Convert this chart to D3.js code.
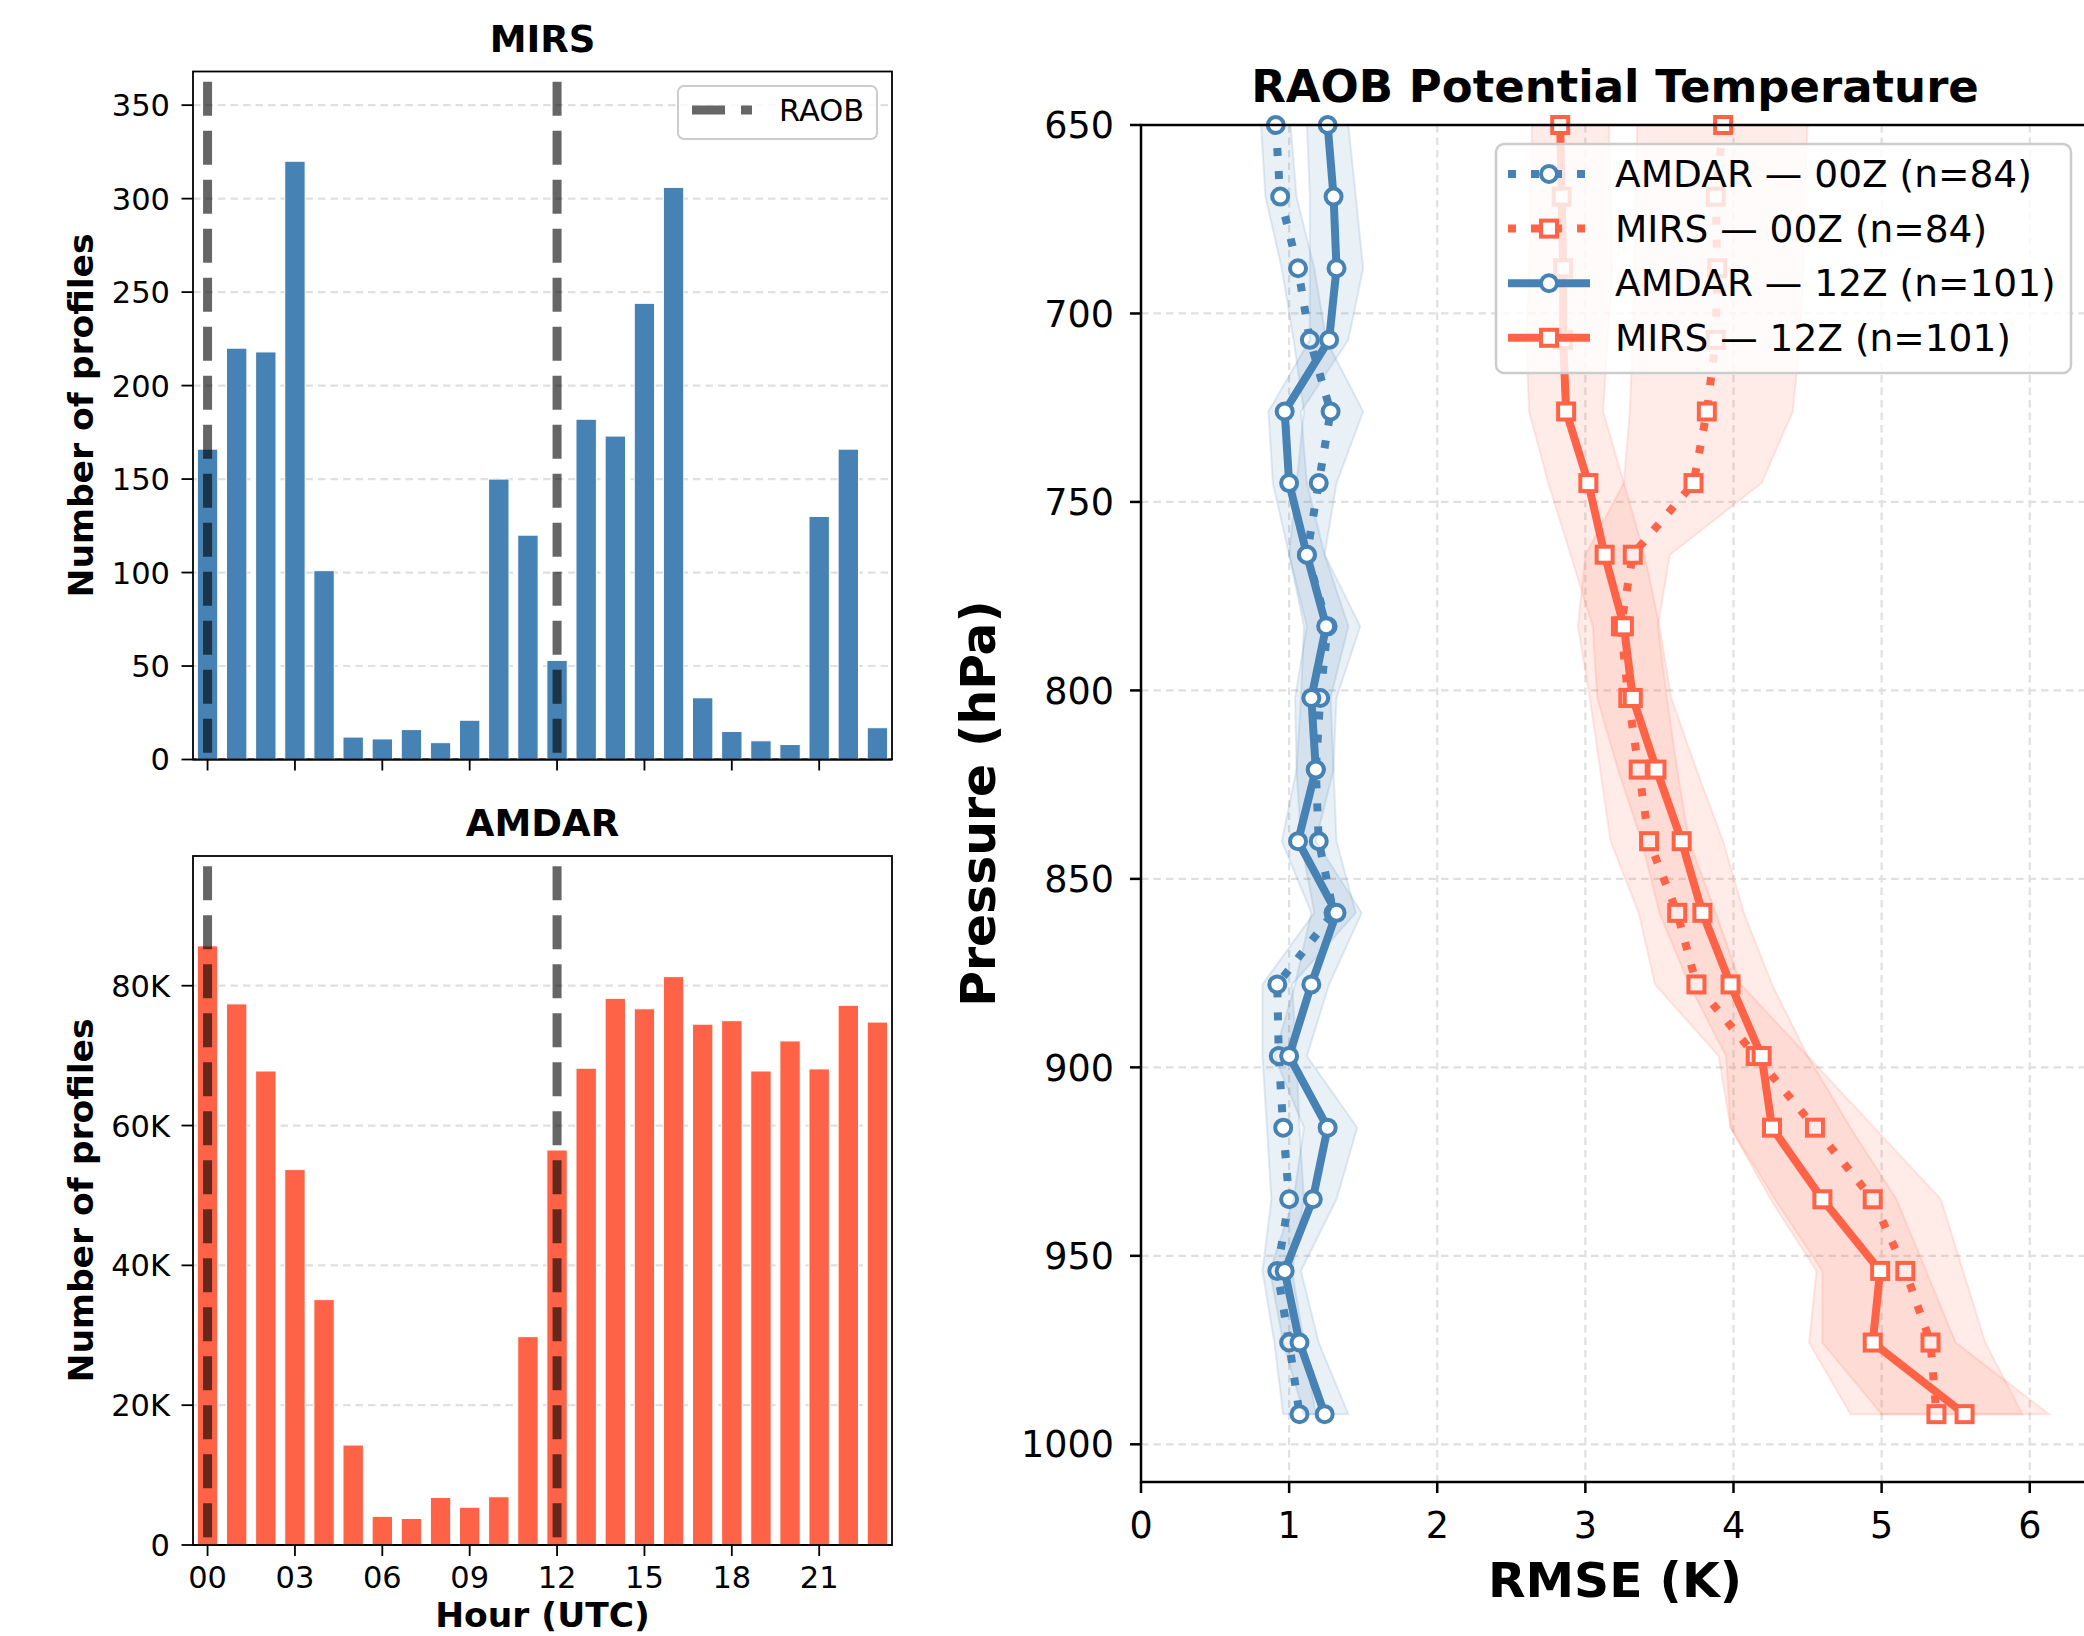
<!DOCTYPE html>
<html>
<head>
<meta charset="utf-8">
<script src="https://cdn.jsdelivr.net/npm/d3@7"></script>
<style>
  body { margin: 0; background: #fff; }
  svg { display: block; font-family: "DejaVu Sans", sans-serif; }
</style>
</head>
<body>
<script>
// hourly counts (left panels)
var hours = [0, 1, 2, 3, 4, 5, 6, 7, 8, 9, 10, 11, 12, 13, 14, 15, 16, 17, 18, 19, 20, 21, 22, 23];
var hourTicks = [0, 3, 6, 9, 12, 15, 18, 21];
var hourLabels = ['00', '03', '06', '09', '12', '15', '18', '21'];
var raobHours = [0, 12];
var mirsCounts = [166, 220, 218, 320, 101, 12, 11, 16, 9, 21, 150, 120, 53, 182, 173, 244, 306, 33, 15, 10, 8, 130, 166, 17];
var amdarCounts = [85700, 77400, 67800, 53700, 35100, 14300, 4100, 3800, 6800, 5400, 6900, 29800,
                   56500, 68200, 78200, 76700, 81300, 74500, 75000, 67800, 72100, 68100, 77200, 74800];
var mirsTicks = [0, 50, 100, 150, 200, 250, 300, 350];
var mirsTickLabels = ['0', '50', '100', '150', '200', '250', '300', '350'];
var amdarTicks = [0, 20000, 40000, 60000, 80000];
var amdarTickLabels = ['0', '20K', '40K', '60K', '80K'];

// RMSE profiles (right panel)
var levels = [650, 669, 688, 707, 726, 745, 764, 783, 802, 821, 840, 859, 878, 897, 916, 935, 954, 973, 992];
var amdar00 = [0.91, 0.94, 1.06, 1.14, 1.28, 1.20, 1.12, 1.26, 1.21, 1.18, 1.20, 1.30, 0.92, 0.93, 0.96, 1.00, 0.92, 1.00, 1.07];
var amdar00Lo = [0.81, 0.84, 0.95, 1.03, 1.10, 1.05, 1.00, 1.10, 1.08, 1.05, 1.08, 1.17, 0.82, 0.82, 0.85, 0.88, 0.82, 0.90, 0.96];
var amdar00Hi = [1.01, 1.05, 1.17, 1.25, 1.50, 1.32, 1.24, 1.48, 1.32, 1.30, 1.32, 1.45, 1.02, 1.05, 1.07, 1.10, 1.02, 1.10, 1.18];
var mirs00 = [3.93, 3.88, 3.89, 3.88, 3.82, 3.73, 3.32, 3.24, 3.29, 3.36, 3.43, 3.62, 3.75, 4.15, 4.55, 4.94, 5.16, 5.33, 5.37];
var mirs00Lo = [3.35, 3.34, 3.33, 3.32, 3.30, 3.26, 3.00, 2.95, 3.03, 3.10, 3.17, 3.36, 3.47, 3.90, 3.98, 4.25, 4.56, 4.51, 4.79];
var mirs00Hi = [4.50, 4.48, 4.47, 4.45, 4.40, 4.19, 3.57, 3.49, 3.55, 3.62, 3.70, 3.88, 4.05, 4.50, 4.95, 5.40, 5.55, 5.70, 5.95];
var amdar12 = [1.26, 1.30, 1.32, 1.27, 0.97, 1.00, 1.12, 1.25, 1.15, 1.18, 1.06, 1.32, 1.15, 1.00, 1.26, 1.16, 0.97, 1.07, 1.24];
var amdar12Lo = [1.12, 1.14, 1.14, 1.14, 0.86, 0.89, 1.00, 1.12, 1.04, 1.05, 0.95, 1.15, 1.04, 0.90, 1.10, 1.03, 0.87, 0.96, 1.10];
var amdar12Hi = [1.40, 1.45, 1.50, 1.40, 1.08, 1.12, 1.24, 1.40, 1.28, 1.30, 1.18, 1.49, 1.27, 1.12, 1.46, 1.32, 1.08, 1.20, 1.40];
var mirs12 = [2.83, 2.84, 2.85, 2.85, 2.87, 3.02, 3.13, 3.26, 3.32, 3.48, 3.65, 3.79, 3.98, 4.19, 4.26, 4.60, 4.99, 4.94, 5.56];
var mirs12Lo = [2.64, 2.63, 2.62, 2.60, 2.62, 2.75, 2.90, 3.05, 3.08, 3.22, 3.38, 3.50, 3.70, 3.95, 3.98, 4.28, 4.60, 4.60, 5.00];
var mirs12Hi = [3.16, 3.17, 3.18, 3.15, 3.12, 3.26, 3.40, 3.50, 3.58, 3.75, 3.93, 4.07, 4.26, 4.50, 4.79, 5.10, 5.30, 5.50, 6.13];
var pressureTicks = [650, 700, 750, 800, 850, 900, 950, 1000];
var rmseTicks = [0, 1, 2, 3, 4, 5, 6];

var blue = '#4682b4', red = '#ff6347', gridColor = '#e0e0e0';

var svg = d3.select('body').append('svg')
    .attr('width', 2084)
    .attr('height', 1636);
svg.append('rect').attr('width', 2084).attr('height', 1636).attr('fill', '#fff');

var x = d3.scaleLinear().domain([-0.5, 23.5]).range([193, 892]);

function barPanel(opts) {
  var y = d3.scaleLinear()
      .domain([0, d3.max(opts.values) * 1.15])
      .range([opts.bottom, opts.top]);
  var g = svg.append('g');

  // grid
  g.selectAll('.grid').data(opts.ticks).enter().append('line')
      .attr('x1', x.range()[0]).attr('x2', x.range()[1])
      .attr('y1', function(d) { return y(d); }).attr('y2', function(d) { return y(d); })
      .attr('stroke', gridColor).attr('stroke-width', 2.2).attr('stroke-dasharray', '7.5,5');

  // bottom spine first so bars cover it
  g.append('line')
      .attr('x1', x.range()[0]).attr('x2', x.range()[1])
      .attr('y1', opts.bottom).attr('y2', opts.bottom)
      .attr('stroke', '#000').attr('stroke-width', 1.8);

  g.selectAll('.bar').data(opts.values).enter().append('rect')
      .attr('x', function(d, i) { return x(hours[i] - 0.35); })
      .attr('width', x(0.7) - x(0))
      .attr('y', function(d) { return y(d); })
      .attr('height', function(d) { return y(0) - y(d); })
      .attr('fill', opts.color)
      .attr('stroke', '#fff').attr('stroke-width', 1);

  g.selectAll('.raob').data(raobHours).enter().append('line')
      .attr('x1', function(d) { return x(d); }).attr('x2', function(d) { return x(d); })
      .attr('y1', y(y.domain()[1] * 0.985)).attr('y2', opts.bottom)
      .attr('stroke', '#000').attr('stroke-opacity', 0.6)
      .attr('stroke-width', 9).attr('stroke-dasharray', '34,15');

  g.append('rect')
      .attr('x', x.range()[0]).attr('y', opts.top)
      .attr('width', x.range()[1] - x.range()[0]).attr('height', opts.bottom - opts.top)
      .attr('fill', 'none').attr('stroke', '#000').attr('stroke-width', 1.8);

  // y ticks
  g.selectAll('.yt').data(opts.ticks).enter().append('line')
      .attr('x1', 181.5).attr('x2', 193)
      .attr('y1', function(d) { return y(d); }).attr('y2', function(d) { return y(d); })
      .attr('stroke', '#000').attr('stroke-width', 1.8);
  g.selectAll('.yl').data(opts.ticks).enter().append('text')
      .attr('x', 170).attr('y', function(d) { return y(d); })
      .attr('dy', '0.36em').attr('text-anchor', 'end')
      .style('font-size', '30.5px')
      .text(function(d, i) { return opts.tickLabels[i]; });

  // x ticks
  g.selectAll('.xt').data(hourTicks).enter().append('line')
      .attr('x1', function(d) { return x(d); }).attr('x2', function(d) { return x(d); })
      .attr('y1', opts.bottom).attr('y2', opts.bottom + 11)
      .attr('stroke', '#000').attr('stroke-width', 1.8);
  if (opts.showHours) {
    g.selectAll('.xl').data(hourTicks).enter().append('text')
        .attr('x', function(d) { return x(d); }).attr('y', opts.bottom + 43)
        .attr('text-anchor', 'middle')
        .style('font-size', '30.5px')
        .text(function(d, i) { return hourLabels[i]; });
    g.append('text')
        .attr('x', (x.range()[0] + x.range()[1]) / 2).attr('y', 1627)
        .attr('text-anchor', 'middle')
        .style('font-size', '34.5px').style('font-weight', 'bold')
        .text('Hour (UTC)');
  }

  g.append('text')
      .attr('x', (x.range()[0] + x.range()[1]) / 2).attr('y', opts.top - 20)
      .attr('text-anchor', 'middle')
      .style('font-size', '37px').style('font-weight', 'bold')
      .text(opts.title);

  g.append('text')
      .attr('transform', 'translate(93,' + (opts.top + opts.bottom) / 2 + ') rotate(-90)')
      .attr('text-anchor', 'middle')
      .style('font-size', '34.5px').style('font-weight', 'bold')
      .text('Number of profiles');
  return g;
}

var mirsPanel = barPanel({title: 'MIRS', values: mirsCounts, color: blue, top: 71.5, bottom: 759.5,
  ticks: mirsTicks, tickLabels: mirsTickLabels, showHours: false});
barPanel({title: 'AMDAR', values: amdarCounts, color: red, top: 856, bottom: 1545,
  ticks: amdarTicks, tickLabels: amdarTickLabels, showHours: true});

// RAOB legend on the MIRS panel
mirsPanel.append('rect')
    .attr('x', 678).attr('y', 86).attr('width', 199).attr('height', 53).attr('rx', 6)
    .attr('fill', '#fff').attr('fill-opacity', 0.8)
    .attr('stroke', '#cccccc').attr('stroke-width', 2);
mirsPanel.append('line')
    .attr('x1', 692).attr('x2', 752).attr('y1', 110).attr('y2', 110)
    .attr('stroke', '#000').attr('stroke-opacity', 0.6)
    .attr('stroke-width', 9).attr('stroke-dasharray', '33,16');
mirsPanel.append('text')
    .attr('x', 779).attr('y', 121)
    .style('font-size', '30.5px')
    .text('RAOB');

// ---- right panel: RMSE profiles ----
var rx = d3.scaleLinear().domain([0, 6.4]).range([1141, 2089]);
var ry = d3.scaleLinear().domain([650, 1010]).range([125, 1482]);
var rg = svg.append('g');

rg.selectAll('.vgrid').data(rmseTicks.slice(1)).enter().append('line')
    .attr('x1', function(d) { return rx(d); }).attr('x2', function(d) { return rx(d); })
    .attr('y1', ry.range()[0]).attr('y2', ry.range()[1])
    .attr('stroke', gridColor).attr('stroke-width', 2.2).attr('stroke-dasharray', '7.5,5');
rg.selectAll('.hgrid').data(pressureTicks.slice(1)).enter().append('line')
    .attr('x1', rx.range()[0]).attr('x2', rx.range()[1])
    .attr('y1', function(d) { return ry(d); }).attr('y2', function(d) { return ry(d); })
    .attr('stroke', gridColor).attr('stroke-width', 2.2).attr('stroke-dasharray', '7.5,5');

var series = [
  {name: 'AMDAR \u2014 00Z (n=84)', vals: amdar00, lo: amdar00Lo, hi: amdar00Hi, color: blue, dotted: true, marker: 'circle'},
  {name: 'MIRS \u2014 00Z (n=84)', vals: mirs00, lo: mirs00Lo, hi: mirs00Hi, color: red, dotted: true, marker: 'square'},
  {name: 'AMDAR \u2014 12Z (n=101)', vals: amdar12, lo: amdar12Lo, hi: amdar12Hi, color: blue, dotted: false, marker: 'circle'},
  {name: 'MIRS \u2014 12Z (n=101)', vals: mirs12, lo: mirs12Lo, hi: mirs12Hi, color: red, dotted: false, marker: 'square'}
];

var band = d3.area()
    .y(function(d, i) { return ry(levels[i]); })
    .x0(function(d) { return rx(d[0]); })
    .x1(function(d) { return rx(d[1]); });
var line = d3.line()
    .x(function(d) { return rx(d); })
    .y(function(d, i) { return ry(levels[i]); });

function drawMarker(sel, s, cx, cy) {
  if (s.marker === 'circle') {
    sel.append('circle').attr('cx', cx).attr('cy', cy).attr('r', 8)
        .attr('fill', '#fff').attr('stroke', s.color).attr('stroke-width', 4);
  } else {
    sel.append('rect').attr('x', cx - 8).attr('y', cy - 8).attr('width', 16).attr('height', 16)
        .attr('fill', '#fff').attr('stroke', s.color).attr('stroke-width', 4);
  }
}

series.forEach(function(s) {
  var pairs = s.lo.map(function(v, i) { return [v, s.hi[i]]; });
  rg.append('path').attr('d', band(pairs))
      .attr('fill', s.color).attr('fill-opacity', 0.12)
      .attr('stroke', s.color).attr('stroke-opacity', 0.15).attr('stroke-width', 2);
  rg.append('path').attr('d', line(s.vals))
      .attr('fill', 'none').attr('stroke', s.color)
      .attr('stroke-width', 8)
      .attr('stroke-dasharray', s.dotted ? '8,15' : null)
      .attr('stroke-linejoin', 'round');
  s.vals.forEach(function(v, i) { drawMarker(rg, s, rx(v), ry(levels[i])); });
});

// spines
rg.append('rect')
    .attr('x', rx.range()[0]).attr('y', ry.range()[0])
    .attr('width', rx.range()[1] - rx.range()[0]).attr('height', ry.range()[1] - ry.range()[0])
    .attr('fill', 'none').attr('stroke', '#000').attr('stroke-width', 2.5);

rg.selectAll('.ryt').data(pressureTicks).enter().append('line')
    .attr('x1', 1130).attr('x2', 1141)
    .attr('y1', function(d) { return ry(d); }).attr('y2', function(d) { return ry(d); })
    .attr('stroke', '#000').attr('stroke-width', 2.5);
rg.selectAll('.ryl').data(pressureTicks).enter().append('text')
    .attr('x', 1114).attr('y', function(d) { return ry(d); })
    .attr('dy', '0.36em').attr('text-anchor', 'end')
    .style('font-size', '36.5px')
    .text(function(d) { return d; });
rg.selectAll('.rxt').data(rmseTicks).enter().append('line')
    .attr('x1', function(d) { return rx(d); }).attr('x2', function(d) { return rx(d); })
    .attr('y1', 1482).attr('y2', 1493)
    .attr('stroke', '#000').attr('stroke-width', 2.5);
rg.selectAll('.rxl').data(rmseTicks).enter().append('text')
    .attr('x', function(d) { return rx(d); }).attr('y', 1538)
    .attr('text-anchor', 'middle')
    .style('font-size', '36.5px')
    .text(function(d) { return d; });

rg.append('text')
    .attr('x', 1615).attr('y', 102).attr('text-anchor', 'middle')
    .style('font-size', '45px').style('font-weight', 'bold')
    .text('RAOB Potential Temperature');
rg.append('text')
    .attr('x', 1615).attr('y', 1597).attr('text-anchor', 'middle')
    .style('font-size', '48.8px').style('font-weight', 'bold')
    .text('RMSE (K)');
rg.append('text')
    .attr('transform', 'translate(995,' + (125 + 1482) / 2 + ') rotate(-90)')
    .attr('text-anchor', 'middle')
    .style('font-size', '48.8px').style('font-weight', 'bold')
    .text('Pressure (hPa)');

// legend
var lg = rg.append('g');
lg.append('rect')
    .attr('x', 1496).attr('y', 144).attr('width', 575).attr('height', 229).attr('rx', 8)
    .attr('fill', '#fff').attr('fill-opacity', 0.8)
    .attr('stroke', '#cccccc').attr('stroke-width', 2.5);
series.forEach(function(s, i) {
  var cy = 174 + i * 54.6;
  lg.append('line')
      .attr('x1', 1508).attr('x2', 1590).attr('y1', cy).attr('y2', cy)
      .attr('stroke', s.color).attr('stroke-width', 8)
      .attr('stroke-dasharray', s.dotted ? '8,15' : null);
  drawMarker(lg, s, 1549, cy);
  lg.append('text')
      .attr('x', 1615).attr('y', cy + 13)
      .style('font-size', '37.5px')
      .text(s.name);
});
</script>
</body>
</html>
